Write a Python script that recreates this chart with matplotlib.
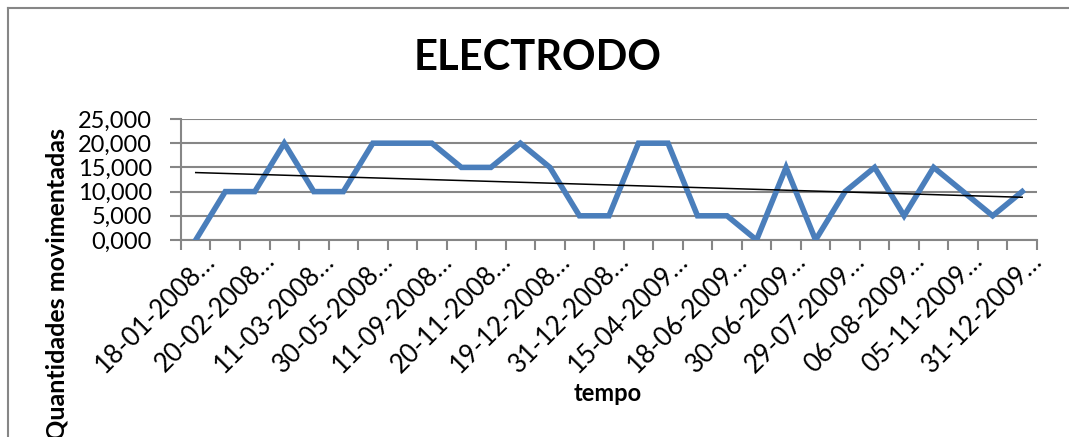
import numpy as np
import matplotlib
matplotlib.use("Agg")
import matplotlib.pyplot as plt
import matplotlib.transforms as mtransforms
from matplotlib.lines import Line2D

plt.rcParams['font.family'] = ['Lato', 'DejaVu Sans']

# dados (quantidades por data de movimento)
datas = ['18-01-2008', '', '20-02-2008', '', '11-03-2008', '', '30-05-2008', '',
         '11-09-2008', '', '20-11-2008', '', '19-12-2008', '', '31-12-2008', '',
         '15-04-2009', '', '18-06-2009', '', '30-06-2009', '', '29-07-2009', '',
         '06-08-2009', '', '05-11-2009', '', '31-12-2009']
quantidades = [0, 10, 10, 20, 10, 10, 20, 20, 20, 15, 15, 20, 15, 5, 5,
               20, 20, 5, 5, 0, 15, 0, 10, 15, 5, 15, 10, 5, 10]
yticks = [0, 5, 10, 15, 20, 25]

grey = '#868686'
x = np.arange(len(quantidades))

fig = plt.figure(figsize=(10.69, 4.37), dpi=100)
ax = fig.add_axes([0.1693, 0.4508, 0.8007, 0.2769])

ax.plot(x, quantidades, color='#4A7EBB', lw=4.0, solid_joinstyle='miter', zorder=3)

# linha de tendência linear
a, b = np.polyfit(x, quantidades, 1)
ax.plot(x, a * x + b, color='black', lw=1.1, zorder=4)

ax.set_xlim(-0.5, len(quantidades) - 0.5)
ax.set_ylim(0, 25)
ax.set_yticks(yticks)
ax.set_yticklabels([('%.3f' % v).replace('.', ',') for v in yticks], fontsize=17)
ax.yaxis.grid(True, color=grey, lw=1.5)
ax.set_axisbelow(True)

ax.set_xticks(np.arange(-0.5, len(quantidades), 1.0))
ax.set_xticklabels([])
ax.set_xticks(x, minor=True)
ax.set_xticklabels([d + '…' if d else '' for d in datas], minor=True,
                   rotation=45, ha='right', va='center', rotation_mode='anchor',
                   fontsize=18.5)
ax.tick_params(axis='x', which='minor', length=0, pad=12)
ax.tick_params(axis='x', which='major', length=7, width=1.5, color=grey)
ax.tick_params(axis='y', length=8, width=1.5, color=grey, pad=13)

shift = mtransforms.ScaledTranslation(16 / 100, 0, fig.dpi_scale_trans)
for lab in ax.get_xticklabels(minor=True):
    lab.set_transform(lab.get_transform() + shift)

for s in ['top', 'right']:
    ax.spines[s].set_visible(False)
for s in ['left', 'bottom']:
    ax.spines[s].set_color(grey)
    ax.spines[s].set_linewidth(1.5)

fig.text(0.503, 0.867, 'ELECTRODO', ha='center', va='center',
         fontsize=30, fontweight='bold')
fig.text(0.568, 0.100, 'tempo', ha='center', va='center',
         fontsize=17, fontweight='bold')
fig.text(0.0533, 0.707, 'Quantidades movimentadas', rotation=90,
         ha='center', va='top', fontsize=18, fontweight='bold')

# moldura do gráfico
fig.add_artist(Line2D([7.5 / 1069, 7.5 / 1069], [0, 1 - 8 / 437],
                      color=grey, lw=1.5, transform=fig.transFigure))
fig.add_artist(Line2D([7.5 / 1069, 1], [1 - 8 / 437, 1 - 8 / 437],
                      color=grey, lw=1.5, transform=fig.transFigure))

fig.savefig('out.png', dpi=100)
